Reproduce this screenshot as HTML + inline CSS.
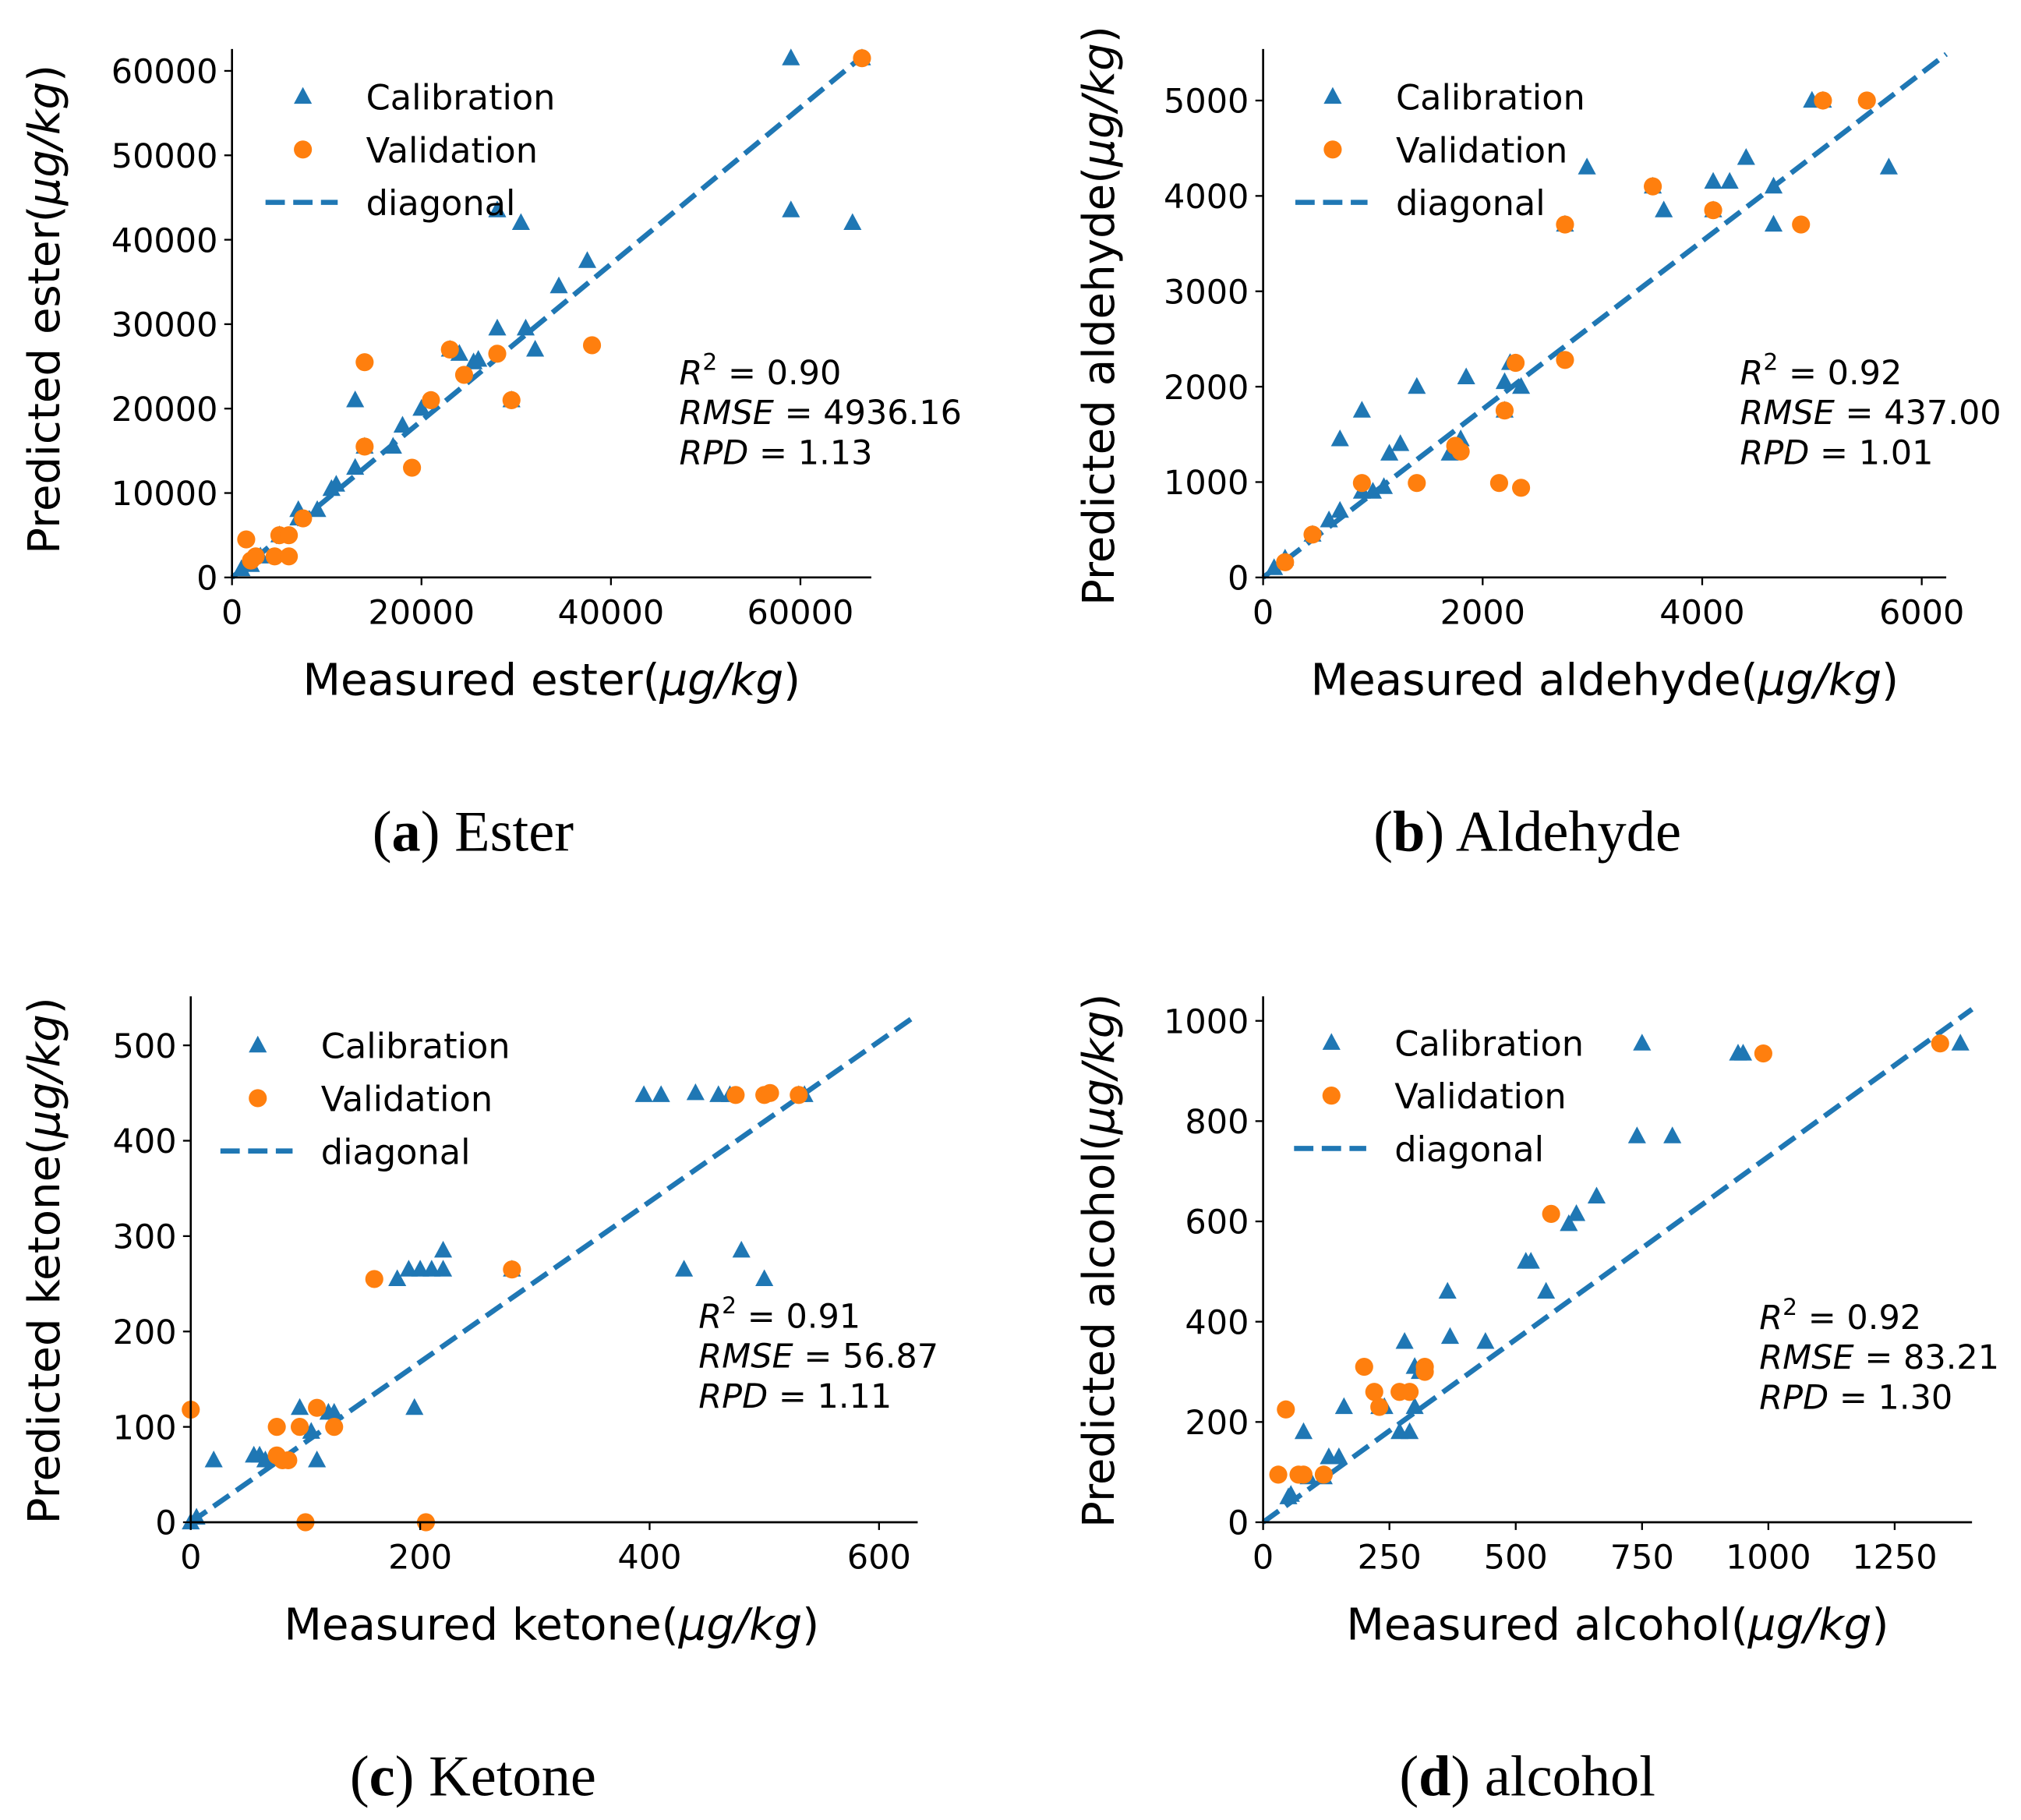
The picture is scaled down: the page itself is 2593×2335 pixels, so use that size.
<!DOCTYPE html>
<html><head><meta charset="utf-8"><style>
html,body{margin:0;padding:0;background:#fff;}
svg{display:block;}
text{font-family:"DejaVu Sans","Liberation Sans",sans-serif;fill:#000;}
.cap{font-family:"Liberation Serif",serif;}
</style></head><body>
<svg id="fig" width="2593" height="2335" viewBox="0 0 1568 1412" xmlns="http://www.w3.org/2000/svg"></svg>
<script>
// ---- data ----
const esterCalX=[59000,66500,28000,30500,59000,65500,37500,34500,28000,31000,32000,24000,25500,26000,23000,13000,20000,29500,18000,17000,14000,13000,11000,10500,9000,7000,7000,5000,3000,2000,1000];
const esterCalY=[61500,61500,43500,42000,43500,42000,37500,34500,29500,29500,27000,26500,25500,25800,27000,21000,20000,21000,18000,15500,15500,13000,11000,10500,8000,8000,7000,5000,2500,1500,1000];
const esterValX=[66500,1500,2000,2500,4500,6000,5000,6000,7500,14000,14000,19000,21000,23000,24500,28000,29500,38000];
const esterValY=[61500,4500,2000,2500,2500,2500,5000,5000,7000,25500,15500,13000,21000,27000,24000,26500,21000,27500];
const aldCalX=[5000,5100,5700,2950,4400,4100,4250,4650,4650,3650,3550,2750,4100,2250,2200,2350,1400,1850,900,700,1150,1250,1700,1800,2200,1000,1100,900,700,600,450,200,100];
const aldCalY=[5000,5000,4300,4300,4400,4150,4150,4100,3700,3850,4100,3700,3850,2250,2050,2000,2000,2100,1750,1450,1300,1400,1300,1450,1750,900,950,900,700,600,450,200,100];
const aldValX=[5500,5100,4900,4100,3550,2750,2750,2300,2200,1750,1800,1400,2150,2350,900,450,200];
const aldValY=[5000,5000,3700,3850,4100,3700,2280,2250,1750,1380,1320,990,990,940,990,450,160];
const ketCalX=[395,410,440,460,470,530,535,220,480,430,500,190,200,210,220,180,280,195,95,120,125,110,105,60,65,20,55,0,5];
const ketCalY=[448,448,450,448,448,448,448,285,285,265,255,265,265,265,265,255,265,120,120,115,115,65,95,70,65,65,70,0,5];
const ketValX=[475,500,505,530,160,280,0,75,95,110,125,75,80,85,100,205];
const ketValY=[448,448,450,448,255,265,118,100,100,120,100,70,65,65,0,0];
const alcCalX=[1380,750,940,950,740,810,660,620,605,520,530,560,365,370,440,280,300,310,230,240,300,160,80,270,290,130,150,120,90,50,55];
const alcCalY=[955,955,935,935,770,770,650,615,595,520,520,460,460,370,360,360,310,300,230,230,230,230,180,180,180,130,130,90,90,50,55];
const alcValX=[1340,990,570,200,320,320,220,270,290,230,45,30,70,80,120];
const alcValY=[955,935,615,310,310,300,260,260,260,230,225,95,95,95,95];
const esterTicks=[0,20000,40000,60000], esterYTicks=[0,10000,20000,30000,40000,50000,60000];
const aldTicks=[0,2000,4000,6000], aldYTicks=[0,1000,2000,3000,4000,5000];
const ketTicks=[0,200,400,600], ketYTicks=[0,100,200,300,400,500];
const alcTicks=[0,250,500,750,1000,1250], alcYTicks=[0,200,400,600,800,1000];
const esterStats=["0.90","4936.16","1.13"], aldStats=["0.92","437.00","1.01"], ketStats=["0.91","56.87","1.11"], alcStats=["0.92","83.21","1.30"];

const NS="http://www.w3.org/2000/svg";
const fig=document.getElementById('fig');
function el(tag,attrs,parent,txt){const e=document.createElementNS(NS,tag);for(const k in attrs)e.setAttribute(k,attrs[k]);if(txt!==undefined)e.textContent=txt;(parent||fig).appendChild(e);return e;}
const BLUE='#1f77b4', ORANGE='#ff7f0e';

function panel(key,P){
  const g=el('g',{});
  
  
  const sx=v=>P.x0+(v-P.xmin)*(P.xk); const sy=v=>P.y0-(v)*(P.yk);
  const d=el('line',{x1:P.x0,y1:P.y0,x2:P.xright,y2:P.ytop+P.dy,stroke:BLUE,'stroke-width':4,'stroke-dasharray':'15 6.5'},g);
  
  
  P.cx.forEach((v,i)=>{const x=sx(v),y=sy(P.cy[i]);
    const t=el('polygon',{points:`${x},${y-7.5} ${x-7},${y+5.5} ${x+7},${y+5.5}`,fill:BLUE},g);
    
    });
  P.vx.forEach((v,i)=>{const c=el('circle',{cx:sx(v),cy:sy(P.vy[i]),r:7,fill:ORANGE},g);
    
    });
  const ya=el('line',{x1:P.x0,y1:P.ytop,x2:P.x0,y2:P.y0+0.8,stroke:'#000','stroke-width':1.6},g);
  
  
  const xa=el('line',{x1:P.x0-0.8,y1:P.y0,x2:P.xright,y2:P.y0,stroke:'#000','stroke-width':1.6},g);
  
  
  P.xt.forEach(v=>{const x=sx(v);el('line',{x1:x,y1:P.y0,x2:x,y2:P.y0+6,stroke:'#000','stroke-width':1.4},g);
    const t=el('text',{x:x,y:P.y0+36,'font-size':26,'text-anchor':'middle'},g,String(v));
    
    });
  P.yt.forEach(v=>{const y=sy(v);el('line',{x1:P.x0-6,y1:y,x2:P.x0,y2:y,stroke:'#000','stroke-width':1.4},g);
    const t=el('text',{x:P.x0-11,y:y+9.5,'font-size':26,'text-anchor':'end'},g,String(v));
    
    });
  const xl=el('text',{x:P.xlx,y:P.y0+91,'font-size':34,'text-anchor':'middle'},g);
  
  
  el('tspan',{},xl,'Measured '+P.name+'(');el('tspan',{'font-style':'italic'},xl,'μg/kg');el('tspan',{},xl,')');
  const yl=el('text',{x:0,y:0,'font-size':34,'text-anchor':'middle',transform:`translate(${P.ylx},${P.yly}) rotate(-90)`},g);
  
  
  el('tspan',{},yl,'Predicted '+P.name+'(');el('tspan',{'font-style':'italic'},yl,'μg/kg');el('tspan',{},yl,')');
  const lg=el('g',{},g);
  
  
  const lx=P.lx, ly=P.ly;
  el('polygon',{points:`${lx},${ly-7.5} ${lx-7},${ly+5.5} ${lx+7},${ly+5.5}`,fill:BLUE},lg);
  el('circle',{cx:lx,cy:ly+41,r:7,fill:ORANGE},lg);
  el('line',{x1:lx-29,y1:ly+82,x2:lx+27,y2:ly+82,stroke:BLUE,'stroke-width':4,'stroke-dasharray':'15 6.5'},lg);
  ['Calibration','Validation','diagonal'].forEach((s,i)=>{const t=el('text',{x:lx+49,y:ly+10+41*i,'font-size':27},lg,s);
    
    });
  const st=el('g',{},g);
  
  
  const t1=el('text',{x:P.sx,y:P.sy,'font-size':26},st);
  el('tspan',{'font-style':'italic'},t1,'R');el('tspan',{dy:-11,'font-size':18},t1,'2');el('tspan',{dy:11},t1,' = '+P.stats[0]);
  const t2=el('text',{x:P.sx,y:P.sy+31,'font-size':26},st);
  el('tspan',{'font-style':'italic'},t2,'RMSE');el('tspan',{},t2,' = '+P.stats[1]);
  const t3=el('text',{x:P.sx,y:P.sy+62,'font-size':26},st);
  el('tspan',{'font-style':'italic'},t3,'RPD');el('tspan',{},t3,' = '+P.stats[2]);
  const c=el('text',{x:P.capx,y:P.capy,'font-size':45,'text-anchor':'middle',class:'cap'},g);
  
  
  el('tspan',{},c,'(');el('tspan',{'font-weight':'bold'},c,P.letter);el('tspan',{},c,') '+P.title);
}

panel('ester',{x0:180,y0:448,xmin:0,xk:441/60000,yk:393/60000,ytop:38,dy:0,xright:676,
  cx:esterCalX,cy:esterCalY,vx:esterValX,vy:esterValY,xt:esterTicks,yt:esterYTicks,name:'ester',
  xlx:428,ylx:46,yly:240,lx:235,ly:75,sx:527,sy:298,stats:esterStats,capx:367,capy:660,letter:'a',title:'Ester'});
panel('aldehyde',{x0:980,y0:448,xmin:0,xk:511/6000,yk:370/5000,ytop:38,dy:4,xright:1510,
  cx:aldCalX,cy:aldCalY,vx:aldValX,vy:aldValY,xt:aldTicks,yt:aldYTicks,name:'aldehyde',
  xlx:1245,ylx:864,yly:245,lx:1034,ly:75,sx:1350,sy:298,stats:aldStats,capx:1185,capy:660,letter:'b',title:'Aldehyde'});
panel('ketone',{x0:148,y0:1181,xmin:0,xk:534/600,yk:370/500,ytop:773,dy:14,xright:712,
  cx:ketCalX,cy:ketCalY,vx:ketValX,vy:ketValY,xt:ketTicks,yt:ketYTicks,name:'ketone',
  xlx:428,ylx:46,yly:978,lx:200,ly:811,sx:542,sy:1030,stats:ketStats,capx:367,capy:1393,letter:'c',title:'Ketone'});
panel('alcohol',{x0:980,y0:1181,xmin:0,xk:490/1250,yk:389/1000,ytop:773,dy:10,xright:1530,
  cx:alcCalX,cy:alcCalY,vx:alcValX,vy:alcValY,xt:alcTicks,yt:alcYTicks,name:'alcohol',
  xlx:1255,ylx:864,yly:978,lx:1033,ly:809,sx:1365,sy:1031,stats:alcStats,capx:1185,capy:1393,letter:'d',title:'alcohol'});
</script>
</body></html>
